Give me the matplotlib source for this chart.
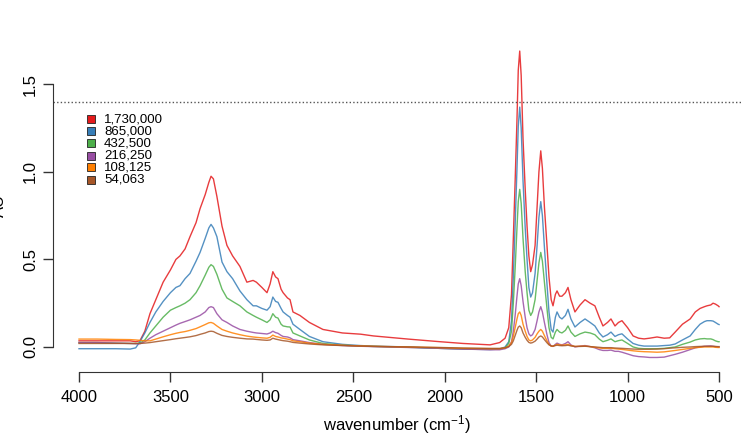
import matplotlib
matplotlib.use("Agg")
import matplotlib.pyplot as plt
from matplotlib.patches import Rectangle

plt.rcParams['font.family'] = ['Liberation Sans', 'DejaVu Sans']
plt.rcParams['mathtext.fontset'] = 'custom'
plt.rcParams['mathtext.rm'] = 'Liberation Sans'
plt.rcParams['mathtext.it'] = 'Liberation Sans'
plt.rcParams['mathtext.default'] = 'regular'

wavenumber = [4000, 3900, 3800, 3720, 3690, 3667, 3640, 3612, 3580, 3540, 3500, 3470, 3448, 3420, 3393,
              3360, 3338, 3310, 3290, 3278, 3265, 3246, 3218, 3191, 3160, 3120, 3082, 3048, 3030, 3000,
              2972, 2955, 2940, 2925, 2912, 2895, 2884, 2860, 2846, 2830, 2792, 2740, 2666, 2560, 2460,
              2390, 2200, 2026, 1900, 1752, 1700, 1670, 1650, 1635, 1625, 1615, 1605, 1598, 1590, 1582,
              1572, 1560, 1550, 1540, 1530, 1520, 1506, 1495, 1485, 1475, 1466, 1455, 1441, 1430, 1418,
              1408, 1395, 1386, 1372, 1359, 1340, 1326, 1310, 1288, 1260, 1233, 1205, 1179, 1155, 1135,
              1110, 1091, 1069, 1050, 1031, 1000, 970, 940, 910, 880, 839, 800, 770, 740, 700,
              658, 630, 604, 580, 566, 545, 533, 520, 505, 500]

s_1730000 = [0.035, 0.035, 0.035, 0.035, 0.03, 0.035, 0.09, 0.19, 0.27, 0.37, 0.44, 0.50, 0.52, 0.56, 0.63,
             0.71, 0.79, 0.87, 0.94, 0.975, 0.96, 0.86, 0.69, 0.58, 0.52, 0.46, 0.37, 0.38, 0.37, 0.34,
             0.31, 0.36, 0.43, 0.40, 0.39, 0.33, 0.31, 0.28, 0.27, 0.20, 0.18, 0.14, 0.10, 0.08, 0.073,
             0.063, 0.045, 0.03, 0.02, 0.012, 0.025, 0.05, 0.11, 0.30, 0.62, 0.95, 1.30, 1.58, 1.69, 1.55,
             1.19, 0.90, 0.69, 0.52, 0.43, 0.47, 0.58, 0.80, 1.00, 1.12, 1.02, 0.80, 0.58, 0.40, 0.27,
             0.235, 0.30, 0.32, 0.29, 0.29, 0.31, 0.34, 0.27, 0.20, 0.24, 0.27, 0.25, 0.235, 0.17, 0.12,
             0.14, 0.16, 0.12, 0.14, 0.15, 0.11, 0.063, 0.05, 0.046, 0.05, 0.057, 0.05, 0.052, 0.085, 0.13,
             0.16, 0.20, 0.22, 0.23, 0.235, 0.24, 0.25, 0.245, 0.235, 0.23]

s_865000 = [-0.01, -0.01, -0.01, -0.012, -0.005, 0.03, 0.08, 0.14, 0.20, 0.26, 0.31, 0.34, 0.35, 0.39, 0.42,
            0.49, 0.54, 0.62, 0.68, 0.70, 0.68, 0.63, 0.485, 0.43, 0.39, 0.32, 0.27, 0.235, 0.235, 0.22,
            0.21, 0.23, 0.285, 0.26, 0.255, 0.22, 0.20, 0.18, 0.17, 0.13, 0.10, 0.06, 0.03, 0.015, 0.008,
            0.005, 0.0, -0.008, -0.012, -0.015, -0.012, 0.0, 0.03, 0.15, 0.40, 0.70, 1.02, 1.26, 1.37, 1.25,
            0.95, 0.68, 0.50, 0.34, 0.285, 0.31, 0.42, 0.58, 0.74, 0.83, 0.75, 0.57, 0.36, 0.20, 0.10,
            0.085, 0.17, 0.20, 0.17, 0.16, 0.18, 0.215, 0.16, 0.114, 0.14, 0.16, 0.14, 0.12, 0.08, 0.057,
            0.07, 0.085, 0.06, 0.07, 0.075, 0.045, 0.02, 0.01, 0.005, 0.005, 0.005, 0.008, 0.01, 0.017, 0.04,
            0.063, 0.10, 0.13, 0.145, 0.15, 0.15, 0.148, 0.14, 0.13, 0.128]

s_432500 = [0.025, 0.025, 0.022, 0.02, 0.02, 0.022, 0.04, 0.08, 0.12, 0.17, 0.21, 0.225, 0.235, 0.25, 0.27,
            0.31, 0.35, 0.41, 0.455, 0.47, 0.46, 0.415, 0.33, 0.28, 0.26, 0.235, 0.20, 0.18, 0.17, 0.155,
            0.14, 0.155, 0.19, 0.17, 0.165, 0.13, 0.12, 0.115, 0.114, 0.08, 0.063, 0.04, 0.02, 0.01, 0.005,
            0.003, -0.002, -0.008, -0.01, -0.013, -0.012, -0.005, 0.02, 0.09, 0.25, 0.45, 0.68, 0.83, 0.90, 0.82,
            0.62, 0.43, 0.31, 0.21, 0.18, 0.20, 0.27, 0.38, 0.48, 0.54, 0.49, 0.37, 0.22, 0.11, 0.055,
            0.046, 0.085, 0.10, 0.085, 0.08, 0.095, 0.12, 0.085, 0.06, 0.075, 0.085, 0.08, 0.07, 0.045, 0.03,
            0.038, 0.046, 0.03, 0.036, 0.04, 0.02, 0.0, -0.008, -0.01, -0.01, -0.01, -0.008, -0.004, 0.0, 0.015,
            0.028, 0.04, 0.046, 0.048, 0.046, 0.046, 0.042, 0.035, 0.03, 0.03]

s_216250 = [0.025, 0.025, 0.022, 0.02, 0.018, 0.018, 0.03, 0.05, 0.07, 0.09, 0.11, 0.125, 0.135, 0.145, 0.155,
            0.17, 0.18, 0.20, 0.225, 0.23, 0.225, 0.19, 0.155, 0.14, 0.12, 0.10, 0.09, 0.083, 0.08, 0.077,
            0.074, 0.08, 0.09, 0.082, 0.078, 0.066, 0.06, 0.057, 0.052, 0.042, 0.035, 0.025, 0.015, 0.008, 0.004,
            0.002, -0.003, -0.008, -0.012, -0.016, -0.016, -0.01, 0.0, 0.03, 0.09, 0.18, 0.29, 0.36, 0.39, 0.35,
            0.26, 0.17, 0.11, 0.075, 0.063, 0.07, 0.10, 0.15, 0.20, 0.23, 0.20, 0.14, 0.07, 0.025, 0.005,
            0.003, 0.015, 0.022, 0.015, 0.012, 0.02, 0.03, 0.012, 0.0, 0.005, 0.008, 0.002, -0.005, -0.015, -0.02,
            -0.02, -0.018, -0.025, -0.025, -0.03, -0.04, -0.05, -0.055, -0.057, -0.06, -0.06, -0.058, -0.05, -0.042, -0.03,
            -0.015, -0.005, 0.0, 0.004, 0.005, 0.006, 0.004, 0.002, 0.0, 0.0]

s_108125 = [0.045, 0.045, 0.043, 0.042, 0.04, 0.038, 0.035, 0.035, 0.045, 0.058, 0.07, 0.078, 0.083, 0.088, 0.095,
            0.105, 0.115, 0.128, 0.138, 0.14, 0.135, 0.12, 0.10, 0.09, 0.08, 0.07, 0.062, 0.057, 0.055, 0.052,
            0.05, 0.055, 0.068, 0.06, 0.057, 0.052, 0.05, 0.045, 0.042, 0.035, 0.03, 0.022, 0.015, 0.01, 0.006,
            0.004, 0.0, -0.004, -0.008, -0.01, -0.01, -0.005, 0.005, 0.025, 0.06, 0.11, 0.16, 0.19, 0.20, 0.18,
            0.13, 0.09, 0.06, 0.04, 0.035, 0.04, 0.055, 0.075, 0.09, 0.10, 0.09, 0.065, 0.035, 0.015, 0.005,
            0.004, 0.01, 0.015, 0.012, 0.01, 0.012, 0.015, 0.008, 0.003, 0.004, 0.005, 0.002, -0.002, -0.006, -0.008,
            -0.008, -0.008, -0.01, -0.012, -0.014, -0.018, -0.022, -0.025, -0.027, -0.028, -0.03, -0.028, -0.024, -0.02, -0.014,
            -0.008, -0.004, -0.002, 0.0, 0.0, 0.0, 0.0, -0.002, -0.003, -0.003]

s_54063 = [0.02, 0.02, 0.02, 0.02, 0.02, 0.02, 0.022, 0.025, 0.03, 0.036, 0.042, 0.047, 0.05, 0.054, 0.058,
           0.065, 0.072, 0.08, 0.088, 0.09, 0.088, 0.078, 0.066, 0.06, 0.055, 0.05, 0.046, 0.045, 0.043, 0.04,
           0.038, 0.04, 0.05, 0.045, 0.042, 0.038, 0.036, 0.033, 0.03, 0.026, 0.022, 0.017, 0.012, 0.008, 0.005,
           0.003, 0.0, -0.003, -0.006, -0.008, -0.008, -0.005, 0.002, 0.015, 0.035, 0.065, 0.095, 0.113, 0.12, 0.11,
           0.08, 0.055, 0.038, 0.026, 0.022, 0.025, 0.033, 0.045, 0.057, 0.063, 0.057, 0.042, 0.024, 0.012, 0.006,
           0.005, 0.008, 0.01, 0.008, 0.007, 0.008, 0.01, 0.006, 0.003, 0.003, 0.004, 0.002, 0.0, -0.002, -0.004,
           -0.004, -0.004, -0.006, -0.007, -0.008, -0.01, -0.012, -0.013, -0.013, -0.013, -0.012, -0.01, -0.007, -0.005, -0.002,
           0.0, 0.002, 0.003, 0.004, 0.004, 0.004, 0.004, 0.003, 0.002, 0.002]

series_labels = ["1,730,000", "865,000", "432,500", "216,250", "108,125", "54,063"]
series_values = [s_1730000, s_865000, s_432500, s_216250, s_108125, s_54063]
colors = ["#E41A1C", "#377EB8", "#4DAF4A", "#984EA3", "#FF7F00", "#A65628"]

x_ticks = [4000, 3500, 3000, 2500, 2000, 1500, 1000, 500]
y_ticks = [0.0, 0.5, 1.0, 1.5]
y_tick_labels = ["0.0", "0.5", "1.0", "1.5"]
ref_level = 1.4

W, H = 741, 436
fig = plt.figure(figsize=(W / 100, H / 100), dpi=100)
ax = fig.add_axes([53.4 / W, (H - 372) / H, (W - 53.4) / W, (372 - 39.5) / H])

for vals, col in zip(series_values, colors):
    ax.plot(wavenumber, vals, color=col, lw=1.0, alpha=0.85)

ax.axhline(ref_level, color="#555555", lw=1.0, ls=(0, (1, 1.6)))

ax.set_xlim(4140, 380)
ax.set_ylim(-0.143, 1.756)

for s in ["top", "right"]:
    ax.spines[s].set_visible(False)
ax.spines["left"].set_bounds(0.0, 1.5)
ax.spines["bottom"].set_bounds(4000, 500)
ax.spines["left"].set_color("#333333")
ax.spines["bottom"].set_color("#333333")

ax.set_xticks(x_ticks)
ax.set_xticklabels([str(t) for t in x_ticks])
ax.set_yticks(y_ticks)
ax.set_yticklabels(y_tick_labels, rotation=90, va="center")
ax.tick_params(axis="both", length=7, width=1, color="#333333", labelsize=12, pad=4)
ax.tick_params(axis="x", pad=6)

ax.set_xlabel(r"wavenumber (cm$^{-1}$)", fontsize=12, labelpad=6)
ax.set_ylabel("AU", fontsize=12)
ax.yaxis.set_label_coords(-0.068, 0.5)

# legend drawn manually (R-style filled squares)
row_y = [119, 131, 143, 155.5, 167.5, 180]
for lab, col, yy in zip(series_labels, colors, row_y):
    fig.patches.append(Rectangle(((87) / W, (H - yy - 4) / H), 8 / W, 8 / H,
                                 transform=fig.transFigure, facecolor=col,
                                 edgecolor="#222222", lw=0.6))
    fig.text(104 / W, (H - yy) / H, lab, fontsize=9.5, va="center", ha="left")

fig.savefig("out.png", dpi=100)
